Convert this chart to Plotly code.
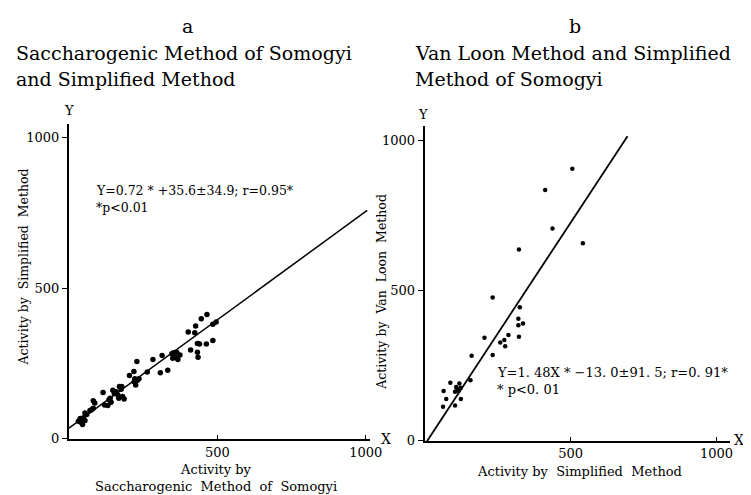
import plotly.graph_objects as go

# panel a: saccharogenic method (x) vs simplified method (y)
sacch_x = [38, 32, 43, 49, 54, 46, 54, 60, 71, 76, 82, 82, 87, 115, 120, 131, 135, 139, 142,
           148, 153, 159, 165, 170, 176, 181, 168, 186, 178, 204, 219, 220, 225, 231, 236, 222,
           229, 264, 283, 308, 314, 333, 347, 352, 358, 363, 367, 374, 350, 402, 410, 427, 424,
           433, 440, 433, 435, 446, 463, 465, 485, 485, 496]
simp_y = [68, 59, 53, 70, 61, 48, 86, 81, 94, 97, 102, 127, 119, 154, 113, 111, 130, 135, 122,
          162, 151, 157, 146, 174, 165, 141, 135, 133, 174, 211, 224, 190, 179, 195, 200, 200,
          257, 222, 264, 220, 277, 228, 283, 286, 271, 288, 264, 279, 268, 355, 295, 375, 353,
          317, 315, 288, 271, 399, 315, 413, 327, 381, 388]

# panel b: simplified method (x) vs van loon method (y)
simp_x = [233, 326, 321, 337, 321, 323, 205, 287, 273, 259, 276, 233, 161, 157, 88, 65, 74, 63,
          104, 124, 110, 119, 108, 116, 124, 104, 506, 413, 438, 542, 323]
vanloon_y = [478, 445, 407, 391, 385, 347, 344, 353, 336, 328, 315, 286, 284, 202, 194, 166,
             140, 114, 118, 140, 175, 191, 180, 166, 177, 164, 907, 836, 708, 659, 638]

# regression lines: slope, intercept, x extent
reg_a = (0.72, 35.6, [0, 1005])
reg_b = (1.48, -13.0, [0, 695])

W, H = 751, 495
FONT = "DejaVu Serif"


def fx(p):
    return p / W


def fy(p):
    return 1 - p / H


fig = go.Figure()

fig.add_trace(go.Scatter(x=sacch_x, y=simp_y, mode="markers",
                         marker=dict(color="black", size=5.5), xaxis="x", yaxis="y"))
m, c, xs = reg_a
fig.add_trace(go.Scatter(x=xs, y=[m * v + c for v in xs], mode="lines",
                         line=dict(color="black", width=1.5), xaxis="x", yaxis="y"))

fig.add_trace(go.Scatter(x=simp_x, y=vanloon_y, mode="markers",
                         marker=dict(color="black", size=4.5), xaxis="x2", yaxis="y2"))
m, c, xs = reg_b
fig.add_trace(go.Scatter(x=xs, y=[m * v + c for v in xs], mode="lines",
                         line=dict(color="black", width=1.8), xaxis="x2", yaxis="y2"))

ax_common = dict(showgrid=False, zeroline=False, showline=True, linecolor="black",
                 linewidth=2, tickfont=dict(family=FONT, size=13, color="black"),
                 tickcolor="black")

fig.update_layout(
    width=W, height=H,
    margin=dict(l=0, r=0, t=0, b=0),
    paper_bgcolor="white", plot_bgcolor="white",
    showlegend=False,
    xaxis=dict(domain=[fx(62), fx(368)], range=[0, (368 - 62) / 0.302], anchor="y",
               tickvals=[500, 1000], ticks="inside", ticklen=4, **ax_common),
    yaxis=dict(domain=[fy(438), fy(118)], range=[0, (438 - 118) / 0.306], anchor="x",
               tickvals=[0, 500, 1000], ticks="outside", ticklen=5, **ax_common),
    xaxis2=dict(domain=[fx(424), fx(735)], range=[0, (735 - 424) / 0.297], anchor="y2",
                tickvals=[500, 1000], ticks="inside", ticklen=4, **ax_common),
    yaxis2=dict(domain=[fy(440), fy(120)], range=[0, (440 - 120) / 0.305], anchor="x2",
                tickvals=[0, 500, 1000], ticks="outside", ticklen=5, **ax_common),
)


def note(x, y, text, size=14, angle=0, xanchor="center", yanchor="middle"):
    fig.add_annotation(x=fx(x), y=fy(y), xref="paper", yref="paper", text=text,
                       showarrow=False, textangle=angle, xanchor=xanchor, yanchor=yanchor,
                       font=dict(family=FONT, size=size, color="black"))


# titles
note(183, 18, "a", 19)
note(6, 46, "Saccharogenic Method of Somogyi", 19, xanchor="left")
note(6, 72, "and Simplified Method", 19, xanchor="left")
note(577, 18, "b", 19)
note(412, 46, "Van Loon Method and Simplified", 19, xanchor="left")
note(412, 72, "Method of Somogyi", 19, xanchor="left")

# axis letters
note(62, 104, "Y", 13)
note(422, 108, "Y", 13)
note(385, 438, "X", 14)
note(751, 439, "X", 14, xanchor="right")

# axis titles
note(16, 263, "Activity by  Simplified  Method", 12.5, angle=-90)
note(212, 469, "Activity by", 13)
note(212, 486, "Saccharogenic  Method  of  Somogyi", 13)
note(380, 288, "Activity by  Van  Loon  Method", 12.5, angle=-90)
note(582, 471, "Activity by  Simplified  Method", 13)

# regression texts
note(88, 185, "Y=0.72 * +35.6±34.9; r=0.95*", 12.5, xanchor="left")
note(88, 203, "*p<0.01", 12.5, xanchor="left")
note(496, 370, "Y=1. 48X * −13. 0±91. 5; r=0. 91*", 13, xanchor="left")
note(496, 388, "* p<0. 01", 13, xanchor="left")

fig.write_html("out.html")
